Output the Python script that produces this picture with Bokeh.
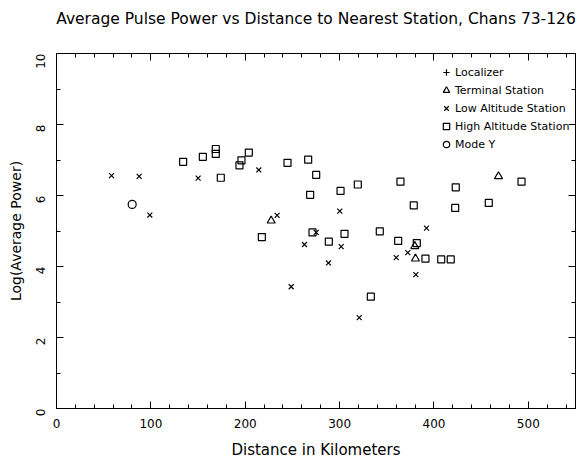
import math
from bokeh.plotting import figure
from bokeh.models import Range1d, LinearAxis, SingleIntervalTicker, Legend, LegendItem, Title
from bokeh.embed import file_html
from bokeh.resources import INLINE

# Data
low_x = [58.3, 87.6, 98.9, 150.1, 214.4, 233.8, 262.8, 275.2, 300.2, 301.7, 288.2,
         360.0, 372.3, 392.1, 380.8, 248.7, 320.8]
low_y = [6.56, 6.54, 5.45, 6.49, 6.72, 5.44, 4.62, 4.96, 5.56, 4.56, 4.10,
         4.25, 4.39, 5.08, 3.77, 3.43, 2.56]

high_x = [134.2, 155.1, 168.8, 168.8, 174.1, 193.9, 196.0, 203.8, 217.6, 244.8,
          266.7, 275.2, 268.8, 271.3, 301.0, 319.3, 364.5, 378.6, 423.1, 422.5,
          458.1, 492.8, 288.6, 305.2, 342.6, 362.1, 381.8, 391.0, 407.7, 417.8, 333.1]
high_y = [6.95, 7.09, 7.31, 7.17, 6.50, 6.85, 6.99, 7.21, 4.83, 6.92,
          7.01, 6.58, 6.02, 4.96, 6.13, 6.31, 6.39, 5.72, 6.23, 5.65,
          5.79, 6.39, 4.70, 4.92, 4.99, 4.72, 4.66, 4.22, 4.20, 4.20, 3.15]

term_x = [227.5, 468.4, 379.7, 380.4]
term_y = [5.29, 6.54, 4.57, 4.22]

modey_x = [80.2]
modey_y = [5.75]

# Localizer: no stations in this channel range (NaN = nothing drawn, legend only)
loc_x = [float("nan")]
loc_y = [float("nan")]

TITLE = "Average Pulse Power vs Distance to Nearest Station, Chans 73-126"
XLABEL = "Distance in Kilometers"
YLABEL = "Log(Average Power)"

FONT = "DejaVu Sans"

p = figure(width=579, height=461, output_backend="svg", toolbar_location=None,
           x_range=Range1d(0, 550), y_range=Range1d(0, 10),
           x_axis_type=None, y_axis_type=None, title=TITLE,
           min_border_left=56, min_border_right=4, min_border_top=53, min_border_bottom=53)
p.background_fill_color = "white"
p.border_fill_color = "white"
p.outline_line_color = "black"
p.outline_line_width = 1
p.xgrid.visible = False
p.ygrid.visible = False

p.title.text_font = FONT
p.title.text_font_size = "15.5px"
p.title.text_font_style = "normal"
p.title.align = "center"
p.title.text_color = "black"
p.title.standoff = 0

xt = SingleIntervalTicker(interval=100, num_minor_ticks=5)
yt = SingleIntervalTicker(interval=2, num_minor_ticks=2)

def style(ax, labels=True):
    ax.axis_line_color = "black"
    ax.major_tick_line_color = "black"
    ax.minor_tick_line_color = "black"
    ax.major_tick_in = 7
    ax.major_tick_out = 0
    ax.minor_tick_in = 4
    ax.minor_tick_out = 0
    ax.major_label_text_font = FONT
    ax.major_label_text_color = "black"
    ax.axis_label_text_font = FONT
    ax.axis_label_text_font_style = "normal"
    ax.axis_label_text_color = "black"
    if labels:
        ax.major_label_text_font_size = "12px"
        ax.axis_label_text_font_size = "15px"
    else:
        ax.major_label_text_font_size = "0px"
        ax.major_label_standoff = 0

xb = LinearAxis(ticker=xt, axis_label=XLABEL)
style(xb)
xb.major_label_standoff = 10
xb.axis_label_standoff = 10
p.add_layout(xb, "below")

xa = LinearAxis(ticker=xt)
style(xa, labels=False)
p.add_layout(xa, "above")

# empty spacer between the top axis and the title
p.add_layout(Title(text=" ", text_font_size="1px", standoff=23), "above")

yl = LinearAxis(ticker=yt, axis_label=YLABEL)
style(yl)
yl.axis_label_text_font_size = "14px"
yl.major_label_orientation = math.pi / 2
yl.major_label_standoff = 16
yl.axis_label_standoff = 5
p.add_layout(yl, "left")

yr = LinearAxis(ticker=yt)
style(yr, labels=False)
p.add_layout(yr, "right")

r_loc = p.scatter(loc_x, loc_y, marker="cross", size=8, line_color="black", line_width=1.2)
r_term = p.scatter(term_x, term_y, marker="triangle", size=8, line_color="black",
                   fill_color=None, line_width=1.2)
r_low = p.scatter(low_x, low_y, marker="x", size=7, line_color="black", line_width=1.2)
r_high = p.scatter(high_x, high_y, marker="square", size=7, line_color="black",
                   fill_color=None, line_width=1.2)
r_mode = p.scatter(modey_x, modey_y, marker="circle", size=8, line_color="black",
                   fill_color=None, line_width=1.2)

legend = Legend(items=[
    LegendItem(label="Localizer", renderers=[r_loc]),
    LegendItem(label="Terminal Station", renderers=[r_term]),
    LegendItem(label="Low Altitude Station", renderers=[r_low]),
    LegendItem(label="High Altitude Station", renderers=[r_high]),
    LegendItem(label="Mode Y", renderers=[r_mode]),
], location=(382, 255))
legend.label_text_font = FONT
legend.label_text_font_size = "11px"
legend.label_text_color = "black"
legend.glyph_width = 16
legend.glyph_height = 18
legend.label_height = 18
legend.spacing = 0
legend.padding = 5
legend.margin = 0
legend.label_standoff = 1
legend.border_line_color = None
legend.background_fill_alpha = 0
p.add_layout(legend, "center")

open("out.html", "w").write(file_html(p, INLINE))
